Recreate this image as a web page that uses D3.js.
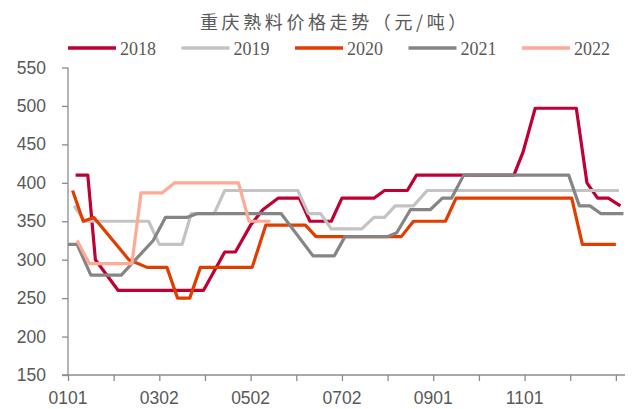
<!DOCTYPE html>
<html>
<head>
<meta charset="utf-8">
<script src="https://cdn.jsdelivr.net/npm/d3@7"></script>
<style>
  html, body { margin: 0; padding: 0; background: #fff; }
  svg { display: block; }
</style>
</head>
<body>
<svg id="chart" width="632" height="409"></svg>
<script>
// ---- data (day index within the year, 0..366) ----
const titleText = "重庆熟料价格走势（元/吨）";
const seriesNames = ["2018", "2019", "2020", "2021", "2022"];
const seriesColors = ["#C00033", "#C3C3C3", "#E23D00", "#858585", "#FFAA94"];

const days2018 = [5, 13, 18, 33, 89, 103, 110, 120, 128, 138, 152, 159, 173, 180, 201, 208, 223, 229, 293, 299, 307, 334, 341, 348, 355, 363];
const price2018 = [410, 410, 300, 260, 260, 310, 310, 345, 365, 380, 380, 350, 350, 380, 380, 390, 390, 410, 410, 440, 497, 497, 400, 380, 380, 370];

const days2019 = [4, 11, 53, 60, 75, 81, 96, 103, 151, 158, 166, 173, 193, 201, 208, 215, 227, 236, 362];
const price2019 = [370, 350, 350, 320, 320, 360, 360, 390, 390, 360, 360, 340, 340, 355, 355, 370, 370, 390, 390];

const days2020 = [3, 10, 17, 40, 52, 65, 72, 80, 87, 121, 130, 156, 163, 219, 227, 248, 255, 331, 338, 360];
const price2020 = [390, 350, 355, 300, 290, 290, 250, 250, 290, 290, 345, 345, 330, 330, 350, 350, 380, 380, 320, 320];

const days2021 = [0, 6, 15, 35, 56, 64, 78, 85, 140, 161, 175, 182, 210, 216, 225, 238, 246, 252, 260, 329, 336, 343, 350, 365];
const price2021 = [320, 320, 280, 280, 325, 355, 355, 360, 360, 305, 305, 330, 330, 335, 365, 365, 380, 380, 410, 410, 370, 370, 360, 360];

const days2022 = [6, 14, 42, 48, 62, 70, 112, 119, 133];
const price2022 = [325, 295, 295, 387, 387, 400, 400, 350, 350];

const xTickDays = [0, 30, 60, 90, 120, 150, 180, 210, 240, 270, 300, 330, 360];
const xLabelDays = [0, 60, 120, 180, 240, 300];
const xLabels = ["0101", "0302", "0502", "0702", "0901", "1101"];
const yTicks = [150, 200, 250, 300, 350, 400, 450, 500, 550];
const totalDays = 366;

// ---- build series ----
const allDays = [days2018, days2019, days2020, days2021, days2022];
const allPrices = [price2018, price2019, price2020, price2021, price2022];
const series = seriesNames.map((name, i) => ({
  name, color: seriesColors[i],
  points: allDays[i].map((d, j) => ({ d, v: allPrices[i][j] }))
}));

// ---- layout ----
const svg = d3.select("#chart");
const plotLeft = 68, plotRight = 625, plotTop = 67.5, plotBottom = 375;
const textColor = "#595959";
const axisColor = "#8C8C8C";

const x = d3.scaleLinear().domain([0, totalDays]).range([plotLeft, plotRight]);
const y = d3.scaleLinear().domain([150, 550]).range([plotBottom, plotTop]);

// title
svg.append("text")
  .attr("x", 200).attr("y", 29)
  .attr("font-family", "'Noto Sans CJK SC', sans-serif")
  .attr("font-size", 18)
  .attr("letter-spacing", 3.6)
  .attr("fill", textColor)
  .text(titleText);

// legend
const legend = svg.append("g");
series.forEach((s, i) => {
  const lx = 68 + 113.5 * i;
  legend.append("line")
    .attr("x1", lx).attr("x2", lx + 48)
    .attr("y1", 48).attr("y2", 48)
    .attr("stroke", s.color).attr("stroke-width", 3.5);
  legend.append("text")
    .attr("x", lx + 52).attr("y", 54.5)
    .attr("font-family", "'Liberation Serif', 'Times New Roman', serif")
    .attr("font-size", 18)
    .attr("fill", textColor)
    .text(s.name);
});

// y axis
const yAxis = d3.axisLeft(y).tickValues(yTicks).tickSize(6).tickPadding(16).tickFormat(d3.format("d"));
const yg = svg.append("g").attr("transform", `translate(${plotLeft},0)`).call(yAxis);
yg.select(".domain").attr("stroke", axisColor).attr("stroke-width", 1.3).attr("d", `M0,${plotTop}V${plotBottom}`);
yg.selectAll(".tick line").attr("stroke", axisColor).attr("stroke-width", 1.3);
yg.selectAll(".tick text")
  .attr("font-family", "'Liberation Sans', Arial, sans-serif")
  .attr("font-size", 17.5).attr("fill", textColor);

// x axis
const xAxis = d3.axisBottom(x).tickValues(xTickDays).tickSize(6).tickFormat("");
const xg = svg.append("g").attr("transform", `translate(0,${plotBottom})`).call(xAxis);
xg.select(".domain").attr("stroke", axisColor).attr("stroke-width", 1.3).attr("d", `M${plotLeft - 6},0H${plotRight}`);
xg.selectAll(".tick line").attr("stroke", axisColor).attr("stroke-width", 1.3);

svg.append("g").selectAll("text")
  .data(xLabelDays)
  .join("text")
  .attr("x", d => x(d)).attr("y", 404)
  .attr("text-anchor", "middle")
  .attr("font-family", "'Liberation Sans', Arial, sans-serif")
  .attr("font-size", 17.5).attr("fill", textColor)
  .text((d, i) => xLabels[i]);

// lines
const line = d3.line().x(p => x(p.d)).y(p => y(p.v));
svg.append("g").selectAll("path")
  .data(series)
  .join("path")
  .attr("d", s => line(s.points))
  .attr("fill", "none")
  .attr("stroke", s => s.color)
  .attr("stroke-width", 3.2)
  .attr("stroke-linejoin", "round")
  .attr("stroke-linecap", "butt");
</script>
</body>
</html>
